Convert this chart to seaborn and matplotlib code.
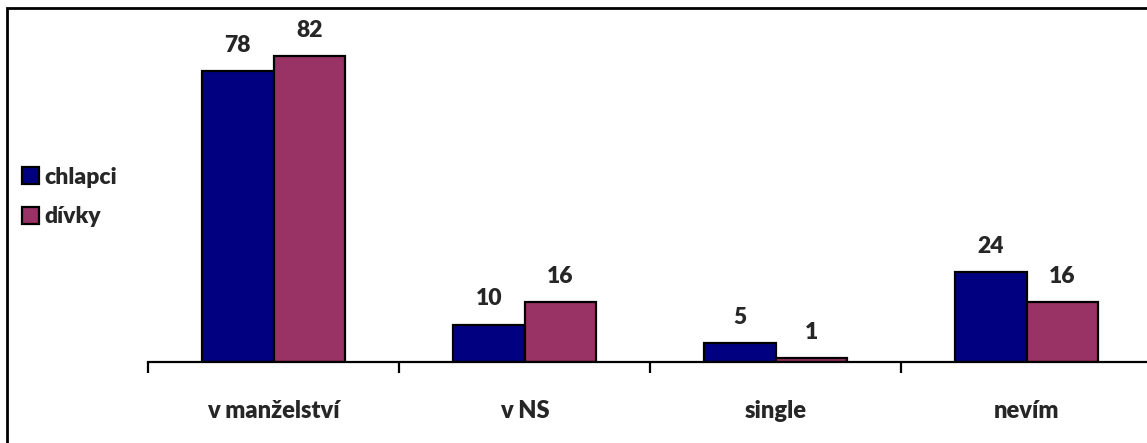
import matplotlib
matplotlib.use("Agg")
import matplotlib.pyplot as plt
import matplotlib.patches as mpatches
import numpy as np
import pandas as pd
import seaborn as sns

categories = ["v manželství", "v NS", "single", "nevím"]
chlapci = [78, 10, 5, 24]
divky = [82, 16, 1, 16]
series = ["chlapci", "dívky"]
colors = ["#000080", "#993366"]

sns.set_theme(style="white")
plt.rcParams["font.family"] = ["Lato", "DejaVu Sans"]
plt.rcParams["font.weight"] = "heavy"

df = pd.DataFrame({
    "kategorie": categories * 2,
    "hodnota": chlapci + divky,
    "skupina": [series[0]] * len(categories) + [series[1]] * len(categories),
})

fig = plt.figure(figsize=(11.47, 4.43), dpi=100)
ax = fig.add_axes([148 / 1147, 1 - 362 / 443, 1004 / 1147, 335.7 / 443])

sns.barplot(data=df, x="kategorie", y="hodnota", hue="skupina", palette=colors,
            saturation=1, width=0.57, gap=0, edgecolor="black", linewidth=1.6,
            ax=ax, legend=False)

for cont in ax.containers:
    ax.bar_label(cont, fmt="%d", padding=11, fontsize=16.5, fontweight="heavy")

ax.set_xlim(-0.5, len(categories) - 0.5)
ax.set_ylim(0, 90)
ax.set(xlabel="", ylabel="")
ax.set_yticks([])
for s in ("top", "right", "left"):
    ax.spines[s].set_visible(False)
ax.spines["bottom"].set_linewidth(1.6)
ax.spines["bottom"].set_color("black")

ax.set_xticks(np.arange(len(categories)))
ax.set_xticklabels(categories, fontsize=17, fontweight="heavy")
ax.set_xticks(np.arange(len(categories) + 1) - 0.5, minor=True)
ax.tick_params(axis="x", which="major", length=0, pad=27)
ax.tick_params(axis="x", which="minor", length=8, width=1.6, color="black", direction="out",
               bottom=True)

handles = [mpatches.Patch(facecolor=c, edgecolor="black", linewidth=1.6, label=l)
           for c, l in zip(colors, series)]
fig.legend(handles=handles, loc="center left", bbox_to_anchor=(13 / 1147, 1 - 197 / 443),
           borderaxespad=0, frameon=False, handlelength=0.75, handleheight=0.75,
           handletextpad=0.2, labelspacing=0.8, prop={"weight": "heavy", "size": 16.5})

fig.patches.append(mpatches.Rectangle((7 / 1147, -0.1), 1.1, 1 - 8 / 443 + 0.1,
                                      transform=fig.transFigure, fill=False,
                                      edgecolor="black", linewidth=2))

fig.savefig("out.png", dpi=100, facecolor="white")
